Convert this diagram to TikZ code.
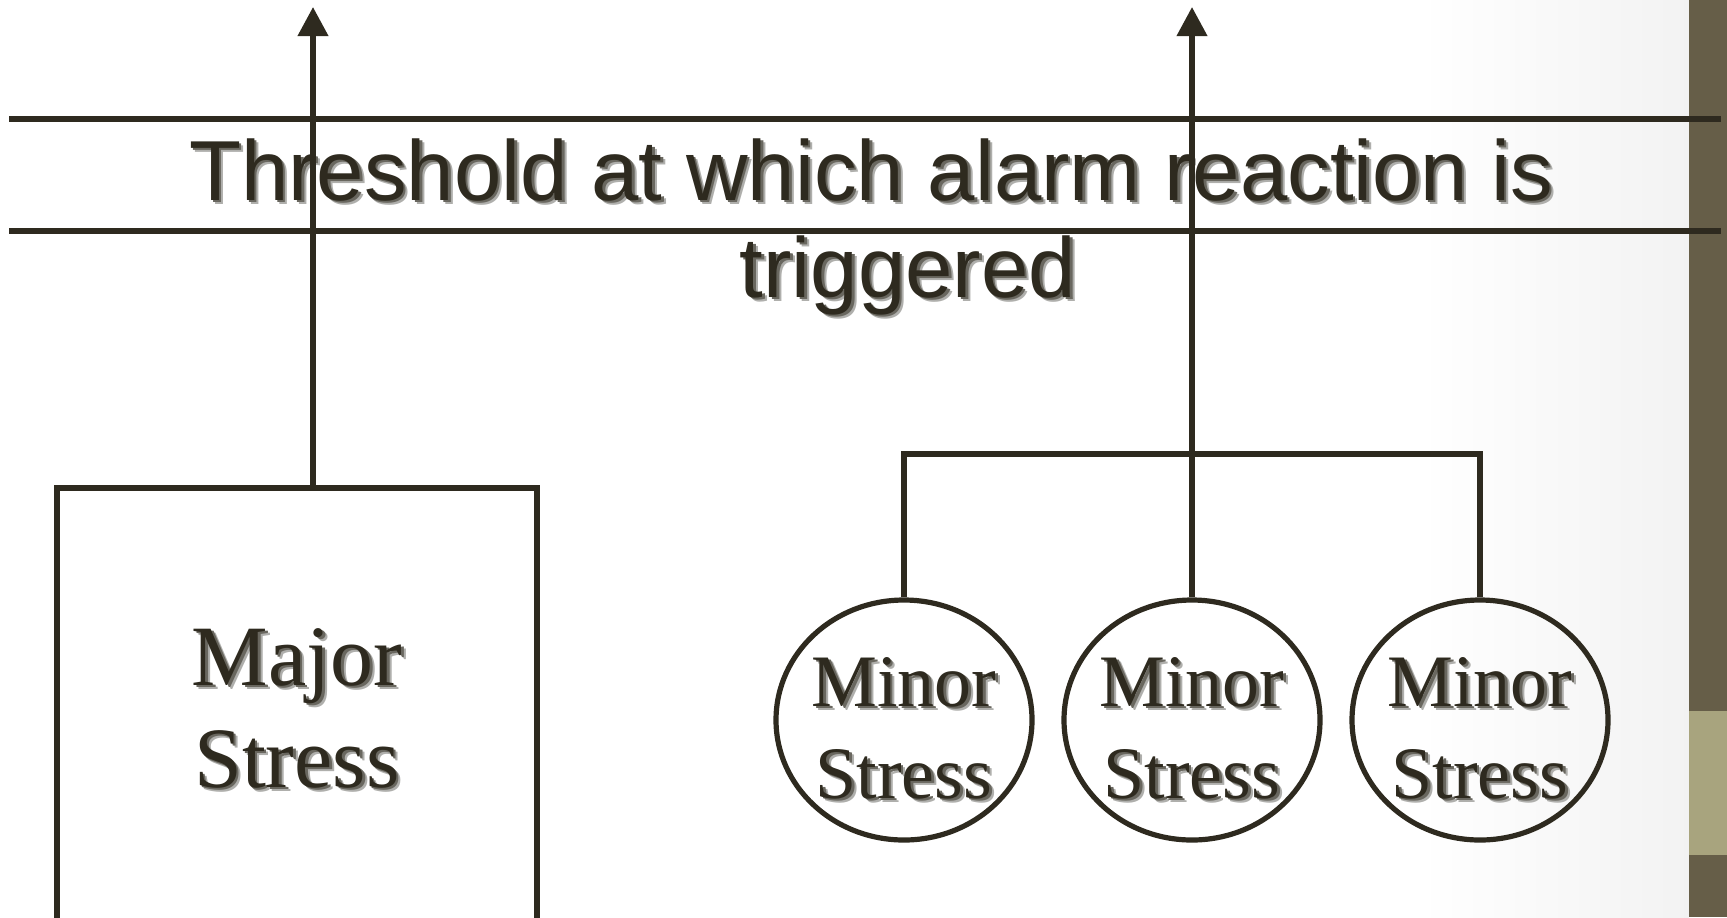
\documentclass[tikz,border=0pt]{standalone}
\usepackage{fontspec}
\setmainfont{Liberation Serif}
\newfontfamily\arialfont{Liberation Sans}
\usetikzlibrary{arrows.meta,shapes.geometric}
\definecolor{ink}{RGB}{46,42,31}
\definecolor{shadowa}{RGB}{175,175,172}
\definecolor{shadowb}{RGB}{105,103,95}
\definecolor{stripdark}{RGB}{102,94,72}
\definecolor{striplight}{RGB}{168,164,126}
\newcommand\shtext[1]{%
  \makebox[0pt][l]{\hspace{2.3pt}\raisebox{-2.3pt}{\textcolor{shadowa}{#1}}}%
  \makebox[0pt][l]{\hspace{1.3pt}\raisebox{-1.3pt}{\textcolor{shadowb}{#1}}}%
  #1}
\tikzset{
  titletext/.style={font=\arialfont\fontsize{42.6}{48.5}\selectfont, align=center, inner sep=0pt, anchor=base, text=ink},
  majortext/.style={font=\fontsize{43}{51}\selectfont, align=center, inner sep=0pt, anchor=base, text=ink},
  minortext/.style={font=\fontsize{37}{46}\selectfont, align=center, inner sep=0pt, anchor=base, text=ink},
  stressbox/.style={draw=ink, rectangle, inner sep=0pt, line width=2.75pt},
  minorell/.style={draw=ink, ellipse, inner sep=0pt, line width=2.6pt, minimum width=128pt, minimum height=120pt},
  conn/.style={draw=ink, line width=2.75pt},
  uparrow/.style={conn, -{Triangle[length=14.5pt,width=14.75pt]}}
}
\begin{document}
\begin{tikzpicture}[x=0.5pt,y=-0.5pt]
\useasboundingbox (0,0) rectangle (1727,917);
\fill[white] (0,0) rectangle (1689,917);
\shade[left color=white,right color=black!5] (1420,0) rectangle (1689,917);
\fill[stripdark] (1689,0) rectangle (1727,917);
\fill[striplight] (1689,711) rectangle (1727,855);
% texts
\node[titletext] (title) at (871,297) {\shtext{Threshold at which alarm reaction is}\\\hspace*{37pt}\shtext{triggered}};
\node[majortext] (majorlbl) at (297,787) {\shtext{Major}\\\shtext{Stress}};
\node[minortext] (minor1lbl) at (904,798) {\shtext{Minor}\\\shtext{Stress}};
\node[minortext] (minor2lbl) at (1192,798) {\shtext{Minor}\\\shtext{Stress}};
\node[minortext] (minor3lbl) at (1480,798) {\shtext{Minor}\\\shtext{Stress}};
% threshold lines
\coordinate (thL1) at (9,119); \coordinate (thR1) at (1721,119);
\coordinate (thL2) at (9,231); \coordinate (thR2) at (1721,231);
\draw[conn] (thL1) -- (thR1);
\draw[conn] (thL2) -- (thR2);
% shapes
\node[stressbox, minimum width=240pt, minimum height=300pt, anchor=north] (majorbox) at (297,485) {};
\node[minorell] (m1) at (904,720) {};
\node[minorell] (m2) at (1192,720) {};
\node[minorell] (m3) at (1480,720) {};
% connectors
\coordinate (tipL) at (313,7);
\coordinate (tipR) at (1192,7);
\coordinate (bar) at (0,454);
\draw[uparrow] (majorbox.north -| tipL) -- (tipL);
\draw[conn] (m1.north) -- (m1.north |- bar) -- (m3.north |- bar) -- (m3.north);
\draw[uparrow] (m2.north) -- (tipR);
\end{tikzpicture}
\end{document}
